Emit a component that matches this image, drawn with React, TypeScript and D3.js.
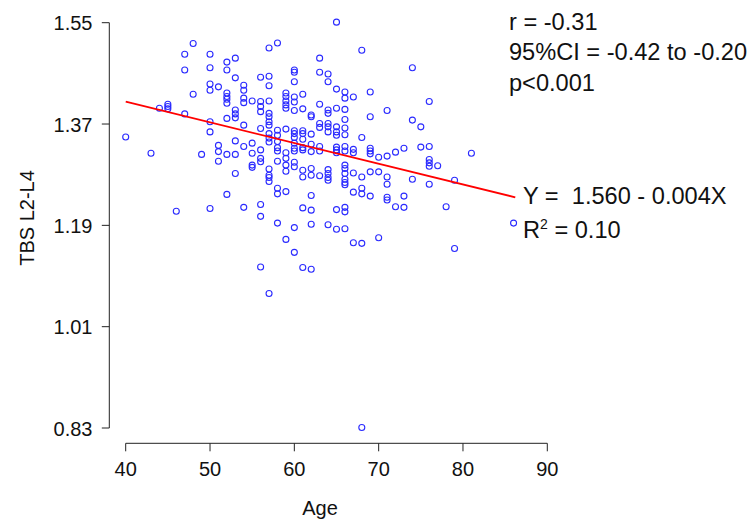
import React from 'react';
import * as d3 from 'd3';

// ages on the x axis, one list of TBS readings per age
const ages = [40, 43, 44, 45, 46, 47, 48, 49, 50, 51, 52, 53, 54, 55, 56, 57, 58, 59, 60, 61, 62, 63, 64, 65, 66, 67, 68, 69, 70, 71, 72, 73, 74, 75, 76, 77, 78, 79, 81, 86];
const tbsByAge = [
    [1.347],
    [1.318],
    [1.398],
    [1.405, 1.401, 1.397],
    [1.215],
    [1.494, 1.466, 1.388],
    [1.513, 1.423],
    [1.316],
    [1.494, 1.470, 1.441, 1.430, 1.374, 1.356, 1.220],
    [1.436, 1.332, 1.321, 1.304],
    [1.480, 1.466, 1.425, 1.419, 1.414, 1.407, 1.380, 1.316, 1.245],
    [1.487, 1.452, 1.395, 1.388, 1.381, 1.340, 1.316, 1.282],
    [1.439, 1.430, 1.416, 1.408, 1.368, 1.330, 1.222],
    [1.411, 1.336, 1.318, 1.297, 1.293],
    [1.453, 1.410, 1.401, 1.392, 1.362, 1.324, 1.309, 1.303, 1.227, 1.206, 1.116],
    [1.505, 1.455, 1.438, 1.411, 1.389, 1.383, 1.374, 1.368, 1.353, 1.345, 1.338, 1.290, 1.279, 1.275, 1.268, 1.069],
    [1.514, 1.359, 1.350, 1.339, 1.328, 1.322, 1.304, 1.256, 1.246, 1.194],
    [1.425, 1.419, 1.411, 1.404, 1.398, 1.361, 1.319, 1.309, 1.297, 1.286, 1.250, 1.165],
    [1.466, 1.462, 1.445, 1.418, 1.409, 1.394, 1.358, 1.353, 1.346, 1.336, 1.327, 1.322, 1.302, 1.294, 1.186, 1.142],
    [1.423, 1.397, 1.358, 1.353, 1.343, 1.328, 1.324, 1.288, 1.276, 1.221, 1.115],
    [1.386, 1.383, 1.352, 1.334, 1.321, 1.291, 1.279, 1.243, 1.217, 1.192, 1.112],
    [1.487, 1.462, 1.405, 1.371, 1.364, 1.330, 1.322, 1.278],
    [1.459, 1.445, 1.395, 1.389, 1.371, 1.365, 1.356, 1.289, 1.282, 1.275, 1.270, 1.191],
    [1.551, 1.432, 1.398, 1.365, 1.356, 1.350, 1.329, 1.324, 1.319, 1.218, 1.183],
    [1.427, 1.416, 1.396, 1.378, 1.363, 1.351, 1.330, 1.322, 1.297, 1.291, 1.282, 1.272, 1.266, 1.262, 1.222, 1.214, 1.184],
    [1.418, 1.325, 1.319, 1.283, 1.249, 1.159],
    [1.501, 1.346, 1.276, 1.256, 1.246, 1.158, 0.831],
    [1.427, 1.383, 1.327, 1.322, 1.317, 1.285, 1.242],
    [1.311, 1.285, 1.168],
    [1.394, 1.313, 1.276, 1.263, 1.240, 1.235],
    [1.320, 1.223],
    [1.327, 1.242, 1.222],
    [1.470, 1.377, 1.272],
    [1.365, 1.329],
    [1.410, 1.330, 1.307, 1.301, 1.295, 1.263],
    [1.296],
    [1.223],
    [1.270, 1.149],
    [1.318],
    [1.194],
];

const xTicks = [40, 50, 60, 70, 80, 90];
const yTicks = [0.83, 1.01, 1.19, 1.37, 1.55];

// fitted line as drawn
const fitIntercept = 1.557;
const fitSlope = -0.00368;
const fitRange = [40, 86.2];

const statLines = ['r = -0.31', '95%CI = -0.42 to -0.20', 'p<0.001'];

const W = 753;
const H = 524;
const font = '"Liberation Sans", Arial, sans-serif';

export default function App() {
    const x = d3.scaleLinear().domain([40, 90]).range([125.7, 547.3]);
    const y = d3.scaleLinear().domain([0.83, 1.55]).range([428, 22.7]);

    const points = ages.flatMap((a, i) => tbsByAge[i].map(v => ({ age: a, tbs: v })));

    const fitLine = d3.line<number>()
        .x(d => x(d))
        .y(d => y(fitIntercept + fitSlope * d));

    const axisX = 109.3;
    const axisY = 443.3;

    return (
        <svg width={W} height={H} style={{ position: 'absolute', left: 0, top: 0, background: '#fff' }} fontFamily={font}>
            {/* y axis */}
            <line x1={axisX} x2={axisX} y1={y(1.55)} y2={y(0.83)} stroke="#222" strokeWidth={1} />
            {yTicks.map(t => (
                <g key={t}>
                    <line x1={axisX - 7.5} x2={axisX} y1={y(t)} y2={y(t)} stroke="#222" strokeWidth={1} />
                    <text x={92.5} y={y(t) + 7.5} textAnchor="end" fontSize={20} fill="#111">{t.toFixed(2)}</text>
                </g>
            ))}
            <text transform={`translate(33.5,218) rotate(-90)`} textAnchor="middle" fontSize={20} fill="#111">TBS L2-L4</text>

            {/* x axis */}
            <line x1={x(40)} x2={x(90)} y1={axisY} y2={axisY} stroke="#222" strokeWidth={1} />
            {xTicks.map(t => (
                <g key={t}>
                    <line x1={x(t)} x2={x(t)} y1={axisY} y2={axisY + 8} stroke="#222" strokeWidth={1} />
                    <text x={x(t)} y={476} textAnchor="middle" fontSize={20} fill="#111">{t}</text>
                </g>
            ))}
            <text x={320} y={515} textAnchor="middle" fontSize={20} fill="#111">Age</text>

            {/* points */}
            {points.map((p, i) => (
                <circle key={i} cx={x(p.age)} cy={y(p.tbs)} r={3} fill="none" stroke="#2a2aff" strokeWidth={1.1} />
            ))}

            {/* regression line */}
            <path d={fitLine(fitRange) || ''} fill="none" stroke="#ff0000" strokeWidth={1.8} />

            {/* annotations */}
            {statLines.map((s, i) => (
                <text key={s} x={509} y={29.5 + i * 30.5} fontSize={23.6} fill="#111">{s}</text>
            ))}
            <text x={523} y={204} fontSize={23.6} fill="#111" style={{ whiteSpace: 'pre' }}>{'Y =  1.560 - 0.004X'}</text>
            <text x={523} y={238} fontSize={23.6} fill="#111">
                R<tspan dy={-9} fontSize={14}>2</tspan><tspan dy={9}> = 0.10</tspan>
            </text>
        </svg>
    );
}
